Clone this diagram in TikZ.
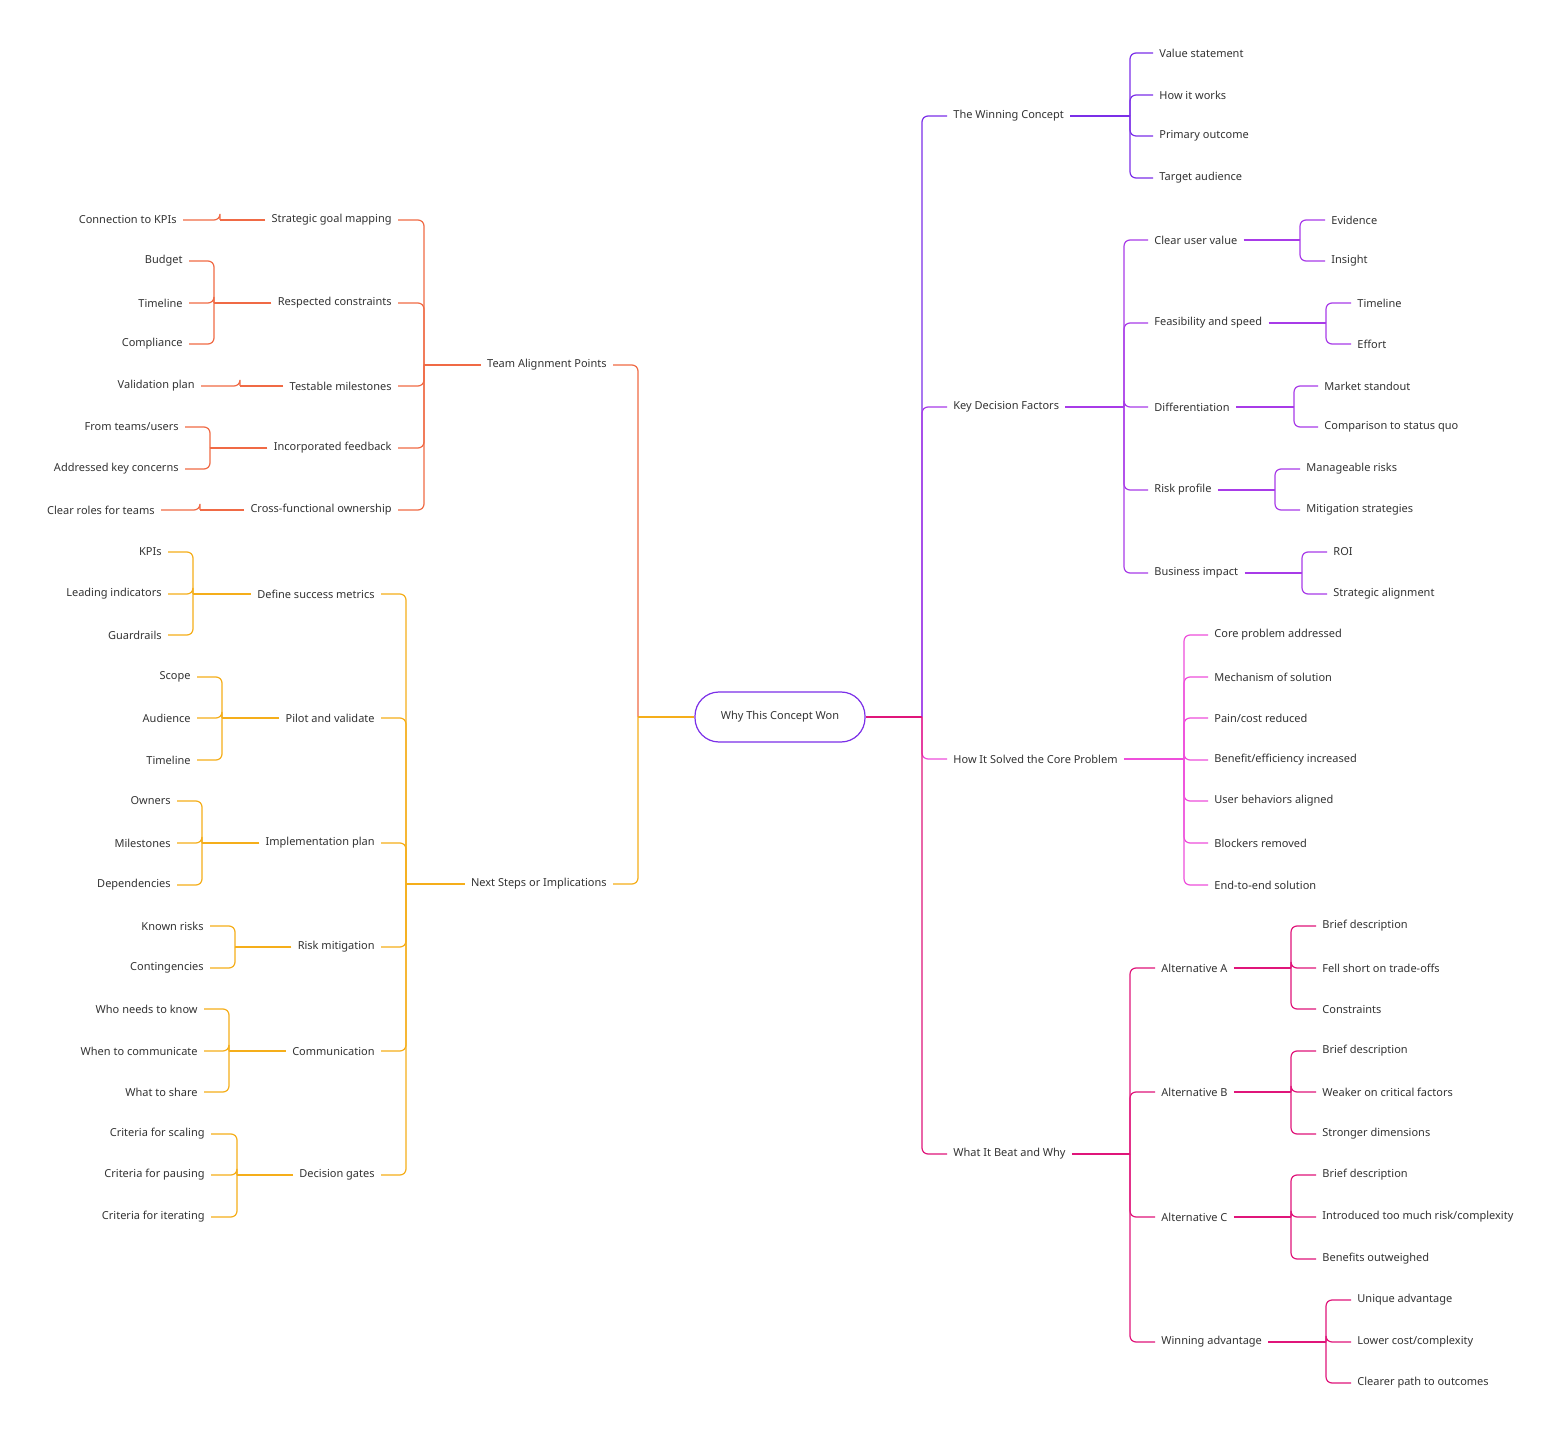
\documentclass[tikz,border=0pt]{standalone}
\usepackage{fontspec}
\setmainfont{Noto Sans}
\definecolor{cA}{HTML}{7B2FE8}
\definecolor{cB}{HTML}{A83BE8}
\definecolor{cC}{HTML}{EE4FDB}
\definecolor{cD}{HTML}{E0157A}
\definecolor{cE}{HTML}{F06A45}
\definecolor{cF}{HTML}{F5AE1A}
\definecolor{tx}{HTML}{333333}
\tikzset{
 lbl/.style={inner xsep=3pt,inner ysep=1pt,text=tx,font=\fontsize{5.5pt}{7pt}\selectfont},
 br/.style={line width=0.6pt,rounded corners=3pt},
 stub/.style={line width=1.1pt},
}
% #1 col, #2 parent, #3 trunk x, #4 parent y, #5 child text x, #6 list
\newcommand\grpR[6]{%
 \draw[#1,stub] (#2.east) -- (#3,#4);
 \foreach \y/\t in {#6} {\node[lbl,anchor=west] (#2-\y) at ({#5-6},\y) {\t};
   \draw[#1,br] (#3,#4) |- (#2-\y.west);}}
\newcommand\grpL[6]{%
 \draw[#1,stub] (#2.west) -- (#3,#4);
 \foreach \y/\t in {#6} {\node[lbl,anchor=east] (#2-\y) at ({#5+6},\y) {\t};
   \draw[#1,br] (#3,#4) |- (#2-\y.east);}}
\begin{document}
\begin{tikzpicture}[x=0.5pt,y=-0.5pt]
\useasboundingbox[fill=white] (0,0) rectangle (1564,1438);
\node[draw=cA,line width=0.6pt,rounded corners=12pt,minimum width=85pt,minimum height=25pt,text=tx,font=\fontsize{5.5pt}{7pt}\selectfont] (root) at (780,717) {Why This Concept Won};
% right level 1
\node[lbl,anchor=west] (wc) at (947,116) {The Winning Concept};
\node[lbl,anchor=west] (kdf) at (947,407) {Key Decision Factors};
\node[lbl,anchor=west] (hs) at (947,759) {How It Solved the Core Problem};
\node[lbl,anchor=west] (wb) at (947,1154) {What It Beat and Why};
\draw[cA,br] (922,717) |- (wc.west);
\draw[cB,br] (922,717) |- (kdf.west);
\draw[cC,br] (922,717) |- (hs.west);
\draw[cD,br] (922,717) |- (wb.west);
\draw[cD,stub] (root.east) -- (922,717);
% left level 1
\node[lbl,anchor=east] (ta) at (613,365) {Team Alignment Points};
\node[lbl,anchor=east] (ns) at (613,884) {Next Steps or Implications};
\draw[cE,br] (638,717) |- (ta.east);
\draw[cF,br] (638,717) |- (ns.east);
\draw[cF,stub] (root.west) -- (638,717);
% right groups
\grpR{cA}{wc}{1130}{116}{1159}{53/Value statement,95/How it works,136/Primary outcome,178/Target audience}
\grpR{cB}{kdf}{1124}{407}{1154}{240/Clear user value,323/Feasibility and speed,407/Differentiation,490/Risk profile,573/Business impact}
\grpR{cB}{kdf-240}{1300}{240}{1331}{220/Evidence,261/Insight}
\grpR{cB}{kdf-323}{1326}{323}{1357}{303/Timeline,344/Effort}
\grpR{cB}{kdf-407}{1294}{407}{1324}{386/Market standout,427/Comparison to status quo}
\grpR{cB}{kdf-490}{1275}{490}{1306}{469/Manageable risks,510/Mitigation strategies}
\grpR{cB}{kdf-573}{1302}{573}{1333}{552/ROI,594/Strategic alignment}
\grpR{cC}{hs}{1184}{759}{1214}{635/Core problem addressed,677/Mechanism of solution,718/{Pain/cost reduced},760/{Benefit/efficiency increased},801/User behaviors aligned,843/Blockers removed,885/End-to-end solution}
\grpR{cD}{wb}{1130}{1154}{1161}{968/Alternative A,1092/Alternative B,1217/Alternative C,1342/Winning advantage}
\grpR{cD}{wb-968}{1291}{968}{1322}{926/Brief description,968/Fell short on trade-offs,1009/Constraints}
\grpR{cD}{wb-1092}{1291}{1092}{1322}{1051/Brief description,1092/Weaker on critical factors,1134/Stronger dimensions}
\grpR{cD}{wb-1217}{1291}{1217}{1322}{1175/Brief description,1217/{Introduced too much risk/complexity},1259/Benefits outweighed}
\grpR{cD}{wb-1342}{1326}{1342}{1357}{1300/Unique advantage,1342/{Lower cost/complexity},1383/Clearer path to outcomes}
% left groups
\grpL{cE}{ta}{424}{365}{392}{220/Strategic goal mapping,303/Respected constraints,386/Testable milestones,448/Incorporated feedback,510/Cross-functional ownership}
\grpL{cE}{ta-220}{220}{220}{177}{220/Connection to KPIs}
\grpL{cE}{ta-303}{214}{303}{183}{261/Budget,303/Timeline,344/Compliance}
\grpL{cE}{ta-386}{240}{386}{195}{386/Validation plan}
\grpL{cE}{ta-448}{210}{448}{179}{427/{From teams/users},469/Addressed key concerns}
\grpL{cE}{ta-510}{200}{510}{155}{510/Clear roles for teams}
\grpL{cF}{ns}{406}{884}{375}{594/Define success metrics,718/Pilot and validate,843/Implementation plan,947/Risk mitigation,1051/Communication,1175/Decision gates}
\grpL{cF}{ns-594}{193}{594}{162}{552/KPIs,594/Leading indicators,635/Guardrails}
\grpL{cF}{ns-718}{222}{718}{191}{677/Scope,718/Audience,760/Timeline}
\grpL{cF}{ns-843}{202}{843}{171}{801/Owners,843/Milestones,885/Dependencies}
\grpL{cF}{ns-947}{235}{947}{204}{926/Known risks,968/Contingencies}
\grpL{cF}{ns-1051}{229}{1051}{198}{1009/Who needs to know,1051/When to communicate,1092/What to share}
\grpL{cF}{ns-1175}{237}{1175}{205}{1134/Criteria for scaling,1175/Criteria for pausing,1217/Criteria for iterating}
\end{tikzpicture}
\end{document}
